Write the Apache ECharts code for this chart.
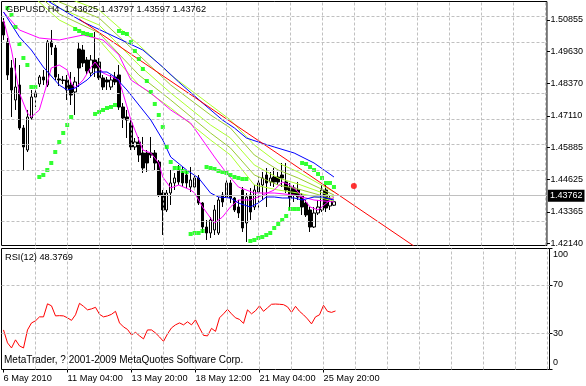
<!DOCTYPE html>
<html><head><meta charset="utf-8">
<script src="https://cdn.jsdelivr.net/npm/echarts@6/dist/echarts.min.js"></script>
<style>html,body{margin:0;padding:0;background:#fff}#c{width:586px;height:386px}</style>
</head><body><div id="c"></div>
<script>
const symbolName = 'GBPUSD,H4';
const copyright = 'MetaTrader, ? 2001-2009 MetaQuotes Software Corp.';
const tickIdx = [0, 16, 32, 48, 64, 80];
const tickLabels = ['6 May 2010', '11 May 04:00', '13 May 20:00', '18 May 12:00', '21 May 04:00', '25 May 20:00'];
const slotCount = 137;
const priceTicks = [1.42140, 1.43365, 1.44625, 1.45885, 1.47110, 1.48370, 1.49630, 1.50855];
const rsiTicks = [0, 30, 70, 100];
const rsiLevels = [30, 70];
const priceMin = 1.42054, priceMax = 1.51577;

const opens = [1.50777,1.49997,1.48982,1.47733,1.48318,1.46640,1.45781,1.47030,1.47850,1.48357,
1.48631,1.48318,1.49997,1.49763,1.48553,1.48514,1.48514,1.48318,1.48045,1.49724,
1.49684,1.49294,1.48787,1.49294,1.49216,1.48592,1.48514,1.48240,1.48631,1.48709,
1.47460,1.47069,1.46835,1.45899,1.46094,1.45664,1.45664,1.45664,1.45664,1.45313,
1.44103,1.43440,1.44103,1.44494,1.45001,1.44884,1.44806,1.44337,1.44337,1.44689,
1.43713,1.42776,1.42542,1.42659,1.42542,1.44025,1.43947,1.44494,1.43908,1.43557,
1.44220,1.42932,1.44025,1.43557,1.44142,1.44415,1.44806,1.44533,1.44728,1.44728,
1.44806,1.44533,1.44337,1.44298,1.44220,1.44025,1.43713,1.43440,1.42776,1.43323,
1.43440,1.44220,1.43596,1.43625];
const closes = [1.50270,1.48709,1.48123,1.48240,1.46640,1.45899,1.47069,1.47850,1.48006,1.48631,
1.48514,1.49997,1.49802,1.48631,1.48514,1.48495,1.48123,1.47928,1.48436,1.48982,
1.49177,1.48865,1.49294,1.48982,1.48592,1.48240,1.48436,1.48514,1.48436,1.47460,
1.47030,1.46952,1.45899,1.46094,1.45586,1.45079,1.45274,1.45586,1.45274,1.44025,
1.43440,1.44103,1.44494,1.44689,1.44533,1.44494,1.44494,1.44611,1.44689,1.43713,
1.42776,1.42542,1.43049,1.43440,1.43830,1.43752,1.44494,1.43908,1.43440,1.43323,
1.42737,1.43947,1.43362,1.44220,1.44494,1.44689,1.44494,1.44689,1.44533,1.44533,
1.44689,1.44220,1.43908,1.44025,1.43947,1.43557,1.43245,1.42776,1.43323,1.43557,
1.44220,1.43518,1.43869,1.43762];
const lows = [1.50075,1.48514,1.47069,1.47343,1.46562,1.45001,1.45703,1.46952,1.47460,1.48240,
1.48318,1.48240,1.49489,1.48514,1.48279,1.48357,1.47733,1.47538,1.47148,1.48240,
1.49021,1.48709,1.48670,1.48631,1.48514,1.48123,1.48123,1.48123,1.48318,1.47343,
1.46640,1.46250,1.45781,1.45781,1.45313,1.44884,1.44923,1.45469,1.45001,1.43947,
1.42464,1.43362,1.43635,1.44220,1.44415,1.44337,1.44298,1.44142,1.44220,1.43635,
1.42542,1.42269,1.42347,1.42464,1.42464,1.43557,1.43830,1.43713,1.43362,1.43127,
1.42581,1.42191,1.43049,1.43440,1.43440,1.43830,1.43557,1.44376,1.44337,1.44415,
1.44337,1.44103,1.43440,1.43752,1.43830,1.43245,1.43166,1.42581,1.42737,1.43245,
1.43362,1.43362,1.43440,1.43597];
const highs = [1.50933,1.50153,1.49294,1.49372,1.49099,1.46757,1.47343,1.48123,1.48123,1.48709,
1.48904,1.50075,1.50465,1.49880,1.48748,1.48670,1.48709,1.48826,1.48631,1.49997,
1.49880,1.49411,1.49489,1.50387,1.49372,1.48709,1.48631,1.48709,1.48826,1.49099,
1.47616,1.47343,1.46952,1.46250,1.46289,1.46289,1.45781,1.46289,1.45781,1.45391,
1.44220,1.44220,1.45001,1.44884,1.45196,1.45118,1.45001,1.45118,1.44806,1.44806,
1.43752,1.43049,1.43166,1.43635,1.43947,1.44142,1.44611,1.44611,1.43947,1.43830,
1.44337,1.44103,1.44298,1.44415,1.44728,1.44923,1.45079,1.44923,1.45079,1.44923,
1.45274,1.45274,1.44494,1.44415,1.44533,1.44103,1.43830,1.43557,1.43557,1.43830,
1.44415,1.44415,1.44025,1.43797];

const maBlueFast = [[0,1.51168],[4,1.50192],[7,1.49684],[10,1.49021],[14,1.48318],[16,1.48123],[18,1.48201],[21,1.48514],[23,1.48826],[26,1.48826],[28,1.48631],[31,1.48123],[33,1.47733],[36,1.47148],[37,1.46952],[40,1.46172],[42,1.45508],[46,1.45001],[49,1.44689],[52,1.44103],[54,1.43947],[57,1.43908],[59,1.43713],[62,1.43557],[64,1.43713],[66,1.43947],[68,1.43947],[70,1.43908],[73,1.43908],[75,1.43830],[78,1.43947],[80,1.43947],[83,1.43830]];
const maBlueSlow = [[10,1.51700],[17,1.51051],[20,1.50777],[27,1.50270],[35,1.49684],[40,1.49021],[44,1.48436],[50,1.47616],[55,1.46952],[58,1.46640],[61,1.46250],[64,1.46094],[68,1.45899],[73,1.45664],[78,1.45274],[83,1.44728]];
const maMagentaFast = [[0,1.50855],[2,1.49684],[4,1.48006],[6,1.47225],[7,1.47069],[9,1.47343],[11,1.48397],[12,1.48982],[14,1.49099],[16,1.48904],[17,1.48397],[18,1.48201],[20,1.48514],[22,1.49021],[23,1.49216],[25,1.48787],[29,1.48514],[30,1.48006],[32,1.46952],[34,1.46172],[35,1.45781],[37,1.45664],[39,1.45274],[40,1.44728],[42,1.44298],[44,1.44415],[47,1.44220],[48,1.44103],[50,1.43557],[52,1.43127],[53,1.42932],[55,1.43166],[57,1.43557],[59,1.43830],[62,1.43830],[64,1.43947],[68,1.44220],[70,1.44533],[72,1.44415],[74,1.44142],[75,1.43947],[77,1.43557],[79,1.43440],[80,1.43557],[82,1.43830],[83,1.43947]];
const maMagentaSlow = [[0,1.51168],[4,1.50465],[9,1.50153],[14,1.50075],[20,1.50270],[25,1.50075],[29,1.49489],[32,1.48514],[37,1.48006],[42,1.47343],[47,1.46835],[50,1.46172],[53,1.45508],[56,1.44884],[59,1.44337],[63,1.44103],[68,1.44103],[73,1.44025],[78,1.43830],[83,1.43752]];
const maFanA = [[4,1.53197],[14,1.51831],[24,1.51246],[34,1.49880],[42,1.48709],[52,1.47538],[57,1.46952],[63,1.45977],[69,1.45274],[74,1.44923],[83,1.44142]];
const maFanB = [[4,1.52963],[14,1.51558],[24,1.50933],[34,1.49489],[42,1.48318],[52,1.47148],[57,1.46640],[63,1.45586],[69,1.45001],[74,1.44689],[83,1.44025]];
const maFanC = [[4,1.52729],[14,1.51324],[24,1.50660],[34,1.49099],[42,1.48006],[52,1.46757],[57,1.46250],[63,1.45196],[69,1.44689],[74,1.44454],[83,1.43947]];
const maFanD = [[4,1.52495],[14,1.51090],[24,1.50348],[34,1.48709],[42,1.47733],[52,1.46445],[57,1.45860],[63,1.44806],[69,1.44415],[74,1.44259],[83,1.43869]];
const maFanE = [[4,1.52260],[14,1.50855],[24,1.50075],[34,1.48318],[42,1.47421],[52,1.46172],[57,1.45586],[63,1.44415],[69,1.44220],[74,1.44103],[83,1.43791]];
const trendLine = [[19,1.50894],[103,1.42042]];
const signalDot = [[88,1.44376]];
const sar = [null,1.51324,1.51051,1.50582,1.49919,1.49372,1.49099,1.48240,1.48240,1.44728,
1.44806,1.45001,1.45274,1.45703,1.46094,1.46445,1.46757,1.47069,1.50504,1.50426,
1.50348,1.50309,1.50270,1.47187,1.47265,1.47343,1.47421,1.47460,1.47538,1.50426,
1.50348,1.50309,1.49997,1.49645,1.49333,1.48943,1.48475,1.48045,1.47577,1.47148,
1.46679,1.45899,1.45313,1.45079,1.45079,1.44962,1.44923,1.42503,1.42542,1.42542,
1.42620,1.45118,1.45079,1.45040,1.44962,1.44923,1.44884,1.44806,1.44728,1.44689,
1.44650,1.44650,1.42230,1.42269,1.42347,1.42386,1.42464,1.42542,1.42737,1.42893,
1.43049,1.43205,1.43479,1.43479,1.43479,1.45274,1.45235,1.45118,1.45001,1.44845,
1.44689,1.44494,1.44494,1.44337];
const rsi = [32.7,22.0,17.8,24.5,19.5,17.8,32.7,38.5,40.2,43.5,
43.5,54.3,52.6,44.3,44.5,44.3,42.7,40.6,45.2,54.7,
52.2,49.3,50.1,51.4,45.6,43.5,44.3,45.6,48.1,38.5,
35.2,33.1,28.6,30.7,27.8,25.3,32.7,32.7,30.2,26.9,
23.2,29.4,34.4,36.9,38.5,36.9,39.4,36.9,41.0,34.4,
28.2,27.8,34.0,31.5,42.7,46.0,49.7,46.0,42.7,41.4,
38.1,49.3,46.0,48.5,52.6,48.1,51.0,53.9,54.1,53.9,
53.6,51.8,47.2,52.2,48.1,45.2,41.8,37.7,43.5,45.2,
53.0,48.1,47.2,48.3769];

const FONT = '"Liberation Sans", Arial, sans-serif';
const last = opens.length - 1;
const cats = Array.from({length: slotCount}, (_, i) => 'b' + i);
const labelAt = {};
tickIdx.forEach((k, j) => { labelAt[k] = tickLabels[j]; });
const vGrid = [];
for (let k = 8; k < slotCount; k += 8) vGrid.push(k);
const dash = {color: '#C0C0C0', type: [3, 2], width: 1};
const txt = (size) => ({fontSize: size, fontWeight: 'normal', color: '#000', fontFamily: FONT});

function maSeries(data, color) {
  return {type: 'line', xAxisIndex: 0, yAxisIndex: 0, data: data, showSymbol: false, symbol: 'none',
    lineStyle: {color: color, width: 1}, z: 3, silent: true};
}

const chart = echarts.init(document.getElementById('c'), null, {renderer: 'canvas'});
chart.setOption({
  animation: false,
  backgroundColor: '#fff',
  title: [
    {text: symbolName + '  ' + [opens[last], highs[last], lows[last], closes[last]].map(v => v.toFixed(5)).join(' '),
     left: 6, top: 5, padding: 0, textStyle: txt(9.25)},
    {text: 'RSI(12) ' + rsi[last].toFixed(4), left: 5, top: 252.5, padding: 0, textStyle: txt(9.25)},
    {text: copyright, left: 4, top: 355, padding: 0, textStyle: txt(10)}
  ],
  grid: [
    {left: 1.5, top: 1.5, width: 548, height: 244, show: true, borderColor: '#000', borderWidth: 1, backgroundColor: 'transparent'},
    {left: 1.5, top: 248.5, width: 548, height: 121, show: true, borderColor: '#000', borderWidth: 1, backgroundColor: 'transparent'}
  ],
  xAxis: [
    {type: 'category', gridIndex: 0, data: cats, boundaryGap: true, show: false},
    {type: 'category', gridIndex: 1, data: cats, boundaryGap: true,
     axisLine: {show: false},
     axisTick: {show: true, alignWithLabel: true, interval: (i) => (i in labelAt), length: 3, lineStyle: {color: '#000'}},
     axisLabel: {interval: (i) => (i in labelAt), formatter: (v, i) => labelAt[i] || '', align: 'left', margin: 4,
                 fontSize: 9.25, fontFamily: FONT, color: '#000'},
     splitLine: {show: false}}
  ],
  yAxis: [
    {type: 'value', gridIndex: 0, position: 'right', min: priceMin, max: priceMax, scale: true,
     axisLine: {show: false},
     axisTick: {show: true, customValues: priceTicks, length: 3, lineStyle: {color: '#000'}},
     axisLabel: {customValues: priceTicks, formatter: v => v.toFixed(5), fontSize: 9, margin: 3.5, color: '#000', fontFamily: FONT},
     splitLine: {show: false}},
    {type: 'value', gridIndex: 1, position: 'right', min: 0, max: 100,
     axisLine: {show: false},
     axisTick: {show: true, customValues: rsiTicks, length: 3, lineStyle: {color: '#000'}},
     axisLabel: {customValues: rsiTicks, margin: 3.5,
       formatter: v => v === 100 ? '{t|100}' : (v === 0 ? '{b|0}' : '{m|' + v + '}'),
       rich: {t: Object.assign(txt(9), {padding: [13, 0, 0, 0]}),
              b: Object.assign(txt(9), {padding: [0, 0, 13, 0]}),
              m: txt(9)}},
     splitLine: {show: false}}
  ],
  series: [
    {type: 'line', xAxisIndex: 0, yAxisIndex: 0, data: closes, showSymbol: false, symbol: 'none',
     lineStyle: {opacity: 0}, silent: true, z: 1,
     markLine: {symbol: ['none', 'none'], silent: true, animation: false, label: {show: false}, lineStyle: dash,
       data: priceTicks.map(v => ({yAxis: v}))
         .concat(vGrid.map(k => ({xAxis: cats[k]})))
         .concat([{yAxis: closes[last], lineStyle: {type: 'solid', color: '#C0C0C0', width: 1},
                   label: {show: true, position: 'end', formatter: closes[last].toFixed(5), distance: 1,
                           backgroundColor: '#000', color: '#fff', padding: [2, 2, 1, 2], fontSize: 9, fontFamily: FONT}}])}},
    {type: 'candlestick', xAxisIndex: 0, yAxisIndex: 0, barWidth: 3, z: 2, silent: true,
     data: opens.map((o, i) => [o, closes[i], lows[i], highs[i]]),
     itemStyle: {color: '#fff', color0: '#000', borderColor: '#000', borderColor0: '#000', borderWidth: 1}},
    maSeries(maFanA, '#ADFF2F'),
    maSeries(maFanB, '#9ACD32'),
    maSeries(maFanC, '#ADFF2F'),
    maSeries(maFanD, '#9ACD32'),
    maSeries(maFanE, '#ADFF2F'),
    maSeries(maMagentaSlow, '#FF00FF'),
    maSeries(maMagentaFast, '#FF00FF'),
    maSeries(maBlueSlow, '#0000FF'),
    maSeries(maBlueFast, '#0000FF'),
    maSeries(trendLine, '#FF0000'),
    {type: 'scatter', xAxisIndex: 0, yAxisIndex: 0, data: sar, symbol: 'rect', symbolSize: 4,
     itemStyle: {color: '#00FF00'}, z: 4, silent: true},
    {type: 'scatter', xAxisIndex: 0, yAxisIndex: 0, data: signalDot, symbol: 'circle', symbolSize: 6,
     itemStyle: {color: '#FF0000'}, z: 5, silent: true},
    {type: 'line', xAxisIndex: 1, yAxisIndex: 1, data: rsi, showSymbol: false, symbol: 'none',
     lineStyle: {color: '#FF0000', width: 1}, z: 3, silent: true,
     markLine: {symbol: ['none', 'none'], silent: true, animation: false, label: {show: false}, lineStyle: dash,
       data: rsiLevels.map(v => ({yAxis: v})).concat(vGrid.map(k => ({xAxis: cats[k]})))}}
  ]
});
</script></body></html>
